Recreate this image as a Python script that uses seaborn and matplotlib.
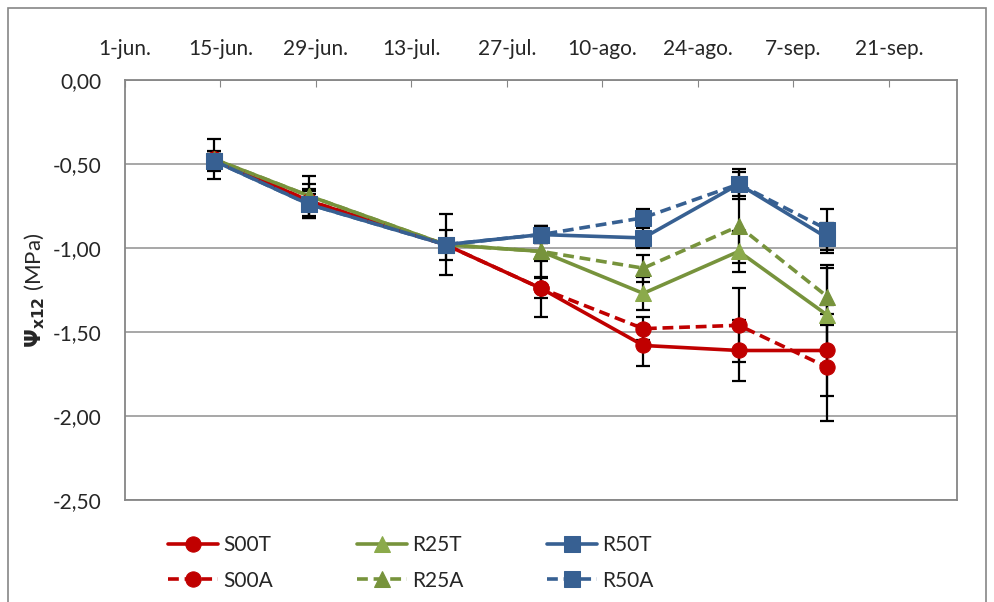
import matplotlib
matplotlib.use("Agg")
import matplotlib.pyplot as plt
from matplotlib.patches import Rectangle
import seaborn as sns
import pandas as pd

# === Data ===
dates = pd.to_datetime(["2013-06-14", "2013-06-28", "2013-07-18", "2013-08-01",
                        "2013-08-16", "2013-08-30", "2013-09-12"])

s00t = [-0.47, -0.72, -0.98, -1.24, -1.58, -1.61, -1.61]
r25t = [-0.47, -0.69, -0.98, -1.02, -1.27, -1.02, -1.40]
r50t = [-0.48, -0.74, -0.98, -0.92, -0.94, -0.62, -0.94]
s00a = [-0.47, -0.72, -0.98, -1.24, -1.48, -1.46, -1.71]
r25a = [-0.47, -0.69, -0.98, -1.02, -1.12, -0.87, -1.29]
r50a = [-0.48, -0.74, -0.98, -0.92, -0.82, -0.62, -0.89]

s00t_err = [0.12, 0.10, 0.18, 0.17, 0.12, 0.18, 0.27]
r25t_err = [0.03, 0.12, 0.09, 0.15, 0.10, 0.12, 0.30]
r50t_err = [0.06, 0.08, 0.03, 0.05, 0.06, 0.09, 0.09]
s00a_err = [0.03, 0.04, 0.03, 0.06, 0.07, 0.22, 0.32]
r25a_err = [0.03, 0.04, 0.03, 0.06, 0.08, 0.22, 0.17]
r50a_err = [0.03, 0.04, 0.03, 0.05, 0.05, 0.07, 0.12]

xtick_dates = pd.date_range("2013-06-01", periods=9, freq="14D")
xtick_labels = ["1-jun.", "15-jun.", "29-jun.", "13-jul.", "27-jul.",
                "10-ago.", "24-ago.", "7-sep.", "21-sep."]
ytick_values = [0.0, -0.5, -1.0, -1.5, -2.0, -2.5]
ytick_labels = ["0,00", "-0,50", "-1,00", "-1,50", "-2,00", "-2,50"]

RED = "#C00000"
GREEN = "#77933C"
GREEN_M = "#8BAA4B"
BLUE = "#376092"

series = [
    ("S00T", s00t, s00t_err, RED, RED, "o", "-"),
    ("R25T", r25t, r25t_err, GREEN, GREEN_M, "^", "-"),
    ("R50T", r50t, r50t_err, BLUE, BLUE, "s", "-"),
    ("S00A", s00a, s00a_err, RED, RED, "o", (0, (3, 1.6))),
    ("R25A", r25a, r25a_err, GREEN, GREEN, "^", (0, (3, 1.6))),
    ("R50A", r50a, r50a_err, BLUE, BLUE, "s", (0, (3, 1.6))),
]

# === Plot ===
sns.set_style("white")
plt.rcParams['font.family'] = ['Lato', 'DejaVu Sans']

fig = plt.figure(figsize=(9.95, 6.02), dpi=100)
ax = fig.add_axes([0.1256, 0.1694, 0.8362, 0.6977])

for name, vals, err, col, mcol, mk, ls in series:
    ax.errorbar(dates, vals, yerr=err, fmt="none", ecolor="black",
                elinewidth=1.6, capsize=5, capthick=1.6, zorder=2)

for name, vals, err, col, mcol, mk, ls in series:
    df = pd.DataFrame({"date": dates, "val": vals})
    sns.lineplot(data=df, x="date", y="val", ax=ax, color=col, linewidth=2.6,
                 linestyle=ls, marker=mk, markersize=11, markerfacecolor=mcol,
                 markeredgecolor=mcol, label=name, zorder=3)

ax.set_xlim(pd.Timestamp("2013-06-01"), pd.Timestamp("2013-10-01"))
ax.set_ylim(-2.5, 0)
ax.set_xticks(xtick_dates)
ax.set_xticklabels(xtick_labels, fontsize=15)
ax.set_yticks(ytick_values)
ax.set_yticklabels(ytick_labels, fontsize=15)
ax.xaxis.tick_top()
ax.tick_params(axis="x", direction="in", length=5, color="#868686", pad=15)
ax.tick_params(axis="y", length=0, pad=17)
ax.yaxis.grid(True, color="#A0A0A0", linewidth=1.3)
ax.set_xlabel("")
for sp in ax.spines.values():
    sp.set_color("#868686")
    sp.set_linewidth(1.3)

ax.set_ylabel(r"$\mathbf{\Psi_{x12}}$ (MPa)", fontsize=16, labelpad=4)

h, l = ax.get_legend_handles_labels()
order = [0, 3, 1, 4, 2, 5]
ax.legend([h[i] for i in order], [l[i] for i in order], ncol=3,
          loc="upper left", bbox_to_anchor=(168 / 995, 1 - 535 / 602),
          bbox_transform=fig.transFigure, borderpad=0, borderaxespad=0,
          frameon=False, fontsize=15, handlelength=2.4, columnspacing=4.0,
          handletextpad=0.26, labelspacing=0.75)

fig.patches.append(Rectangle((0.008, -0.01), 0.983, 0.997, transform=fig.transFigure,
                             fill=False, edgecolor="#868686", linewidth=1.2))

plt.savefig("out.png", dpi=100)
